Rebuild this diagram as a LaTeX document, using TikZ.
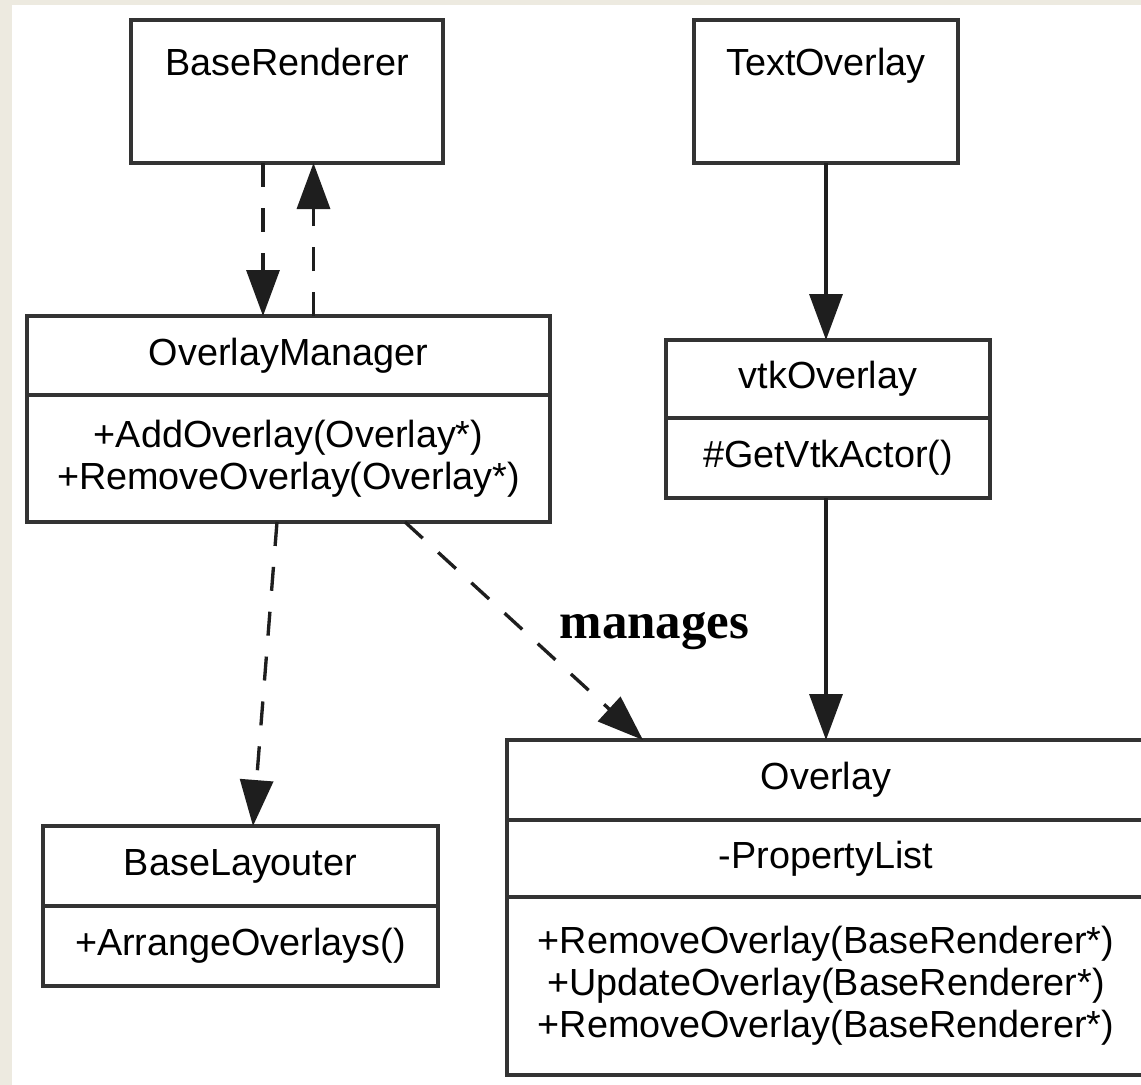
\documentclass[tikz,border=0pt]{standalone}
\usepackage{fontspec}
\setmainfont{Liberation Sans}
\newfontfamily\seriffont{Liberation Serif}
\usetikzlibrary{arrows.meta}
\definecolor{fondbeige}{HTML}{EDEAE0}
\definecolor{trait}{HTML}{333333}
\definecolor{fleche}{HTML}{1E1E1E}

\begin{document}
\begin{tikzpicture}
\tikzset{boite/.style={draw=trait, line width=2.2pt, rectangle, inner sep=0pt, outer sep=0pt, align=center, anchor=north, font=\fontsize{21.5}{24}\selectfont},
  lien/.style={draw=fleche, line width=1.9pt, -{Triangle[length=0.92cm,width=0.66cm]}},
  tirets/.style={lien, dash pattern=on 0.48cm off 0.42cm}}
\useasboundingbox (0,0) rectangle (22.82,-21.7);
\fill[fondbeige] (0,0) rectangle (22.82,-21.7);
\fill[white] (0.24,-0.1) rectangle (22.82,-21.7);
% classes
\node[boite, minimum width=6.24cm, text height=1.1cm, text depth=1.76cm] (R) at (5.74,-0.4) {BaseRenderer};
\node[boite, minimum width=5.28cm, text height=1.1cm, text depth=1.76cm] (T) at (16.52,-0.4) {TextOverlay};
\node[boite, minimum width=10.46cm, minimum height=1.58cm] (M1) at (5.77,-6.32) {OverlayManager};
\node[boite, minimum width=10.46cm, minimum height=2.54cm] (M2) at (M1.south) {+AddOverlay(Overlay*)\\+RemoveOverlay(Overlay*)};
\node[boite, minimum width=6.48cm, minimum height=1.56cm] (V1) at (16.56,-6.8) {vtkOverlay};
\node[boite, minimum width=6.48cm, minimum height=1.6cm] (V2) at (V1.south) {\#GetVtkActor()};
\node[boite, minimum width=7.9cm, minimum height=1.6cm] (L1) at (4.81,-16.52) {BaseLayouter};
\node[boite, minimum width=7.9cm, minimum height=1.6cm] (L2) at (L1.south) {+ArrangeOverlays()};
\node[boite, minimum width=12.76cm, minimum height=1.6cm] (O1) at (16.52,-14.8) {Overlay};
\node[boite, minimum width=12.76cm, minimum height=1.54cm] (O2) at (O1.south) {-PropertyList};
\node[boite, minimum width=12.76cm, minimum height=3.56cm] (O3) at (O2.south) {+RemoveOverlay(BaseRenderer*)\\+UpdateOverlay(BaseRenderer*)\\+RemoveOverlay(BaseRenderer*)};
% liens
\draw[tirets] ([xshift=-0.48cm]R.south) -- ([xshift=-0.48cm]R.south |- M1.north);
\draw[tirets] ([xshift=0.5cm]M1.north) -- ([xshift=0.5cm]M1.north |- R.south);
\draw[lien] (T.south) -- (T.south |- V1.north);
\draw[lien] (O1.north |- V2.south) -- (O1.north);
\draw[tirets] ([xshift=-0.23cm]M2.south) -- ([xshift=0.25cm]L1.north);
\draw[tirets] ([xshift=2.33cm]M2.south) -- node[midway, right=0.68cm, inner sep=0pt, font=\seriffont\bfseries\fontsize{29}{32}\selectfont] {manages} ([xshift=-3.66cm]O1.north);
\end{tikzpicture}
\end{document}
